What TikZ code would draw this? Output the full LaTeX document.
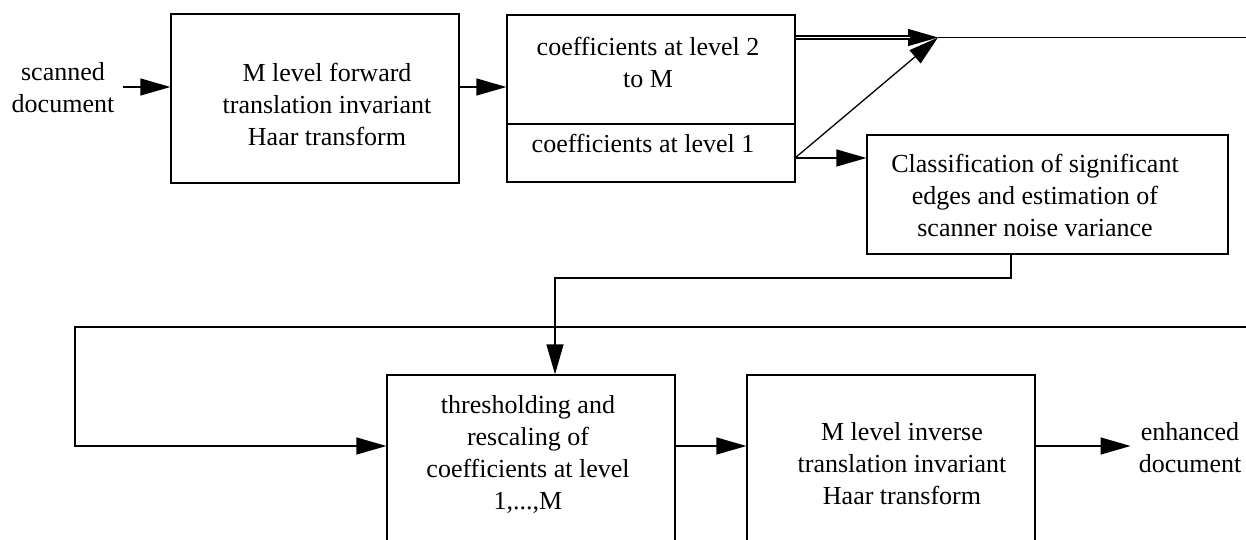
\documentclass[tikz,border=0pt]{standalone}
\usepackage{fontspec}
\setmainfont{Liberation Serif}
\usetikzlibrary{arrows.meta}
\begin{document}
\begin{tikzpicture}[x=1pt,y=-1pt,
  lw/.style={line width=1.3pt},
  box/.style={draw, lw, inner sep=0pt, minimum width=288pt},
  lbl/.style={font=\fontsize{26}{32}\selectfont, align=center, inner sep=0pt},
  arr/.style={lw, -{Triangle[length=30pt,width=17pt]}}]
\useasboundingbox (0,0) rectangle (1246,540);
\clip (0,0) rectangle (1246,540);
% boxes
\node[box, minimum height=169pt] (b1) at (315,98.5) {};
\node[box, minimum height=109pt] (b2a) at (651,69.5) {};
\node[box, minimum height=58pt] (b2b) at (651,153) {};
\node[box, minimum width=361pt, minimum height=119pt] (b3) at (1047.5,194.5) {};
\node[box, minimum height=185pt] (b4) at (531,467.5) {};
\node[box, minimum height=185pt] (b5) at (891,467.5) {};
% texts
\node[lbl, inner xsep=9pt] (in) at (63,87.5) {scanned\\document};
\node[lbl] (t1) at (327,104) {M level forward\\translation invariant\\Haar transform};
\node[lbl] (t2a) at (648,62.5) {coefficients at level 2\\to M};
\node[lbl] (t2b) at (643,143) {coefficients at level 1};
\node[lbl] (t3) at (1035,195) {Classification of significant\\edges and estimation of\\scanner noise variance};
\node[lbl] (t4) at (528,454.5) {thresholding and\\rescaling of\\coefficients at level\\1,...,M};
\node[lbl] (t5) at (902,463.5) {M level inverse\\translation invariant\\Haar transform};
\node[lbl, inner xsep=8pt] (out) at (1190,447.5) {enhanced\\document};
% coordinates
\coordinate (j) at (938,37.5);
\coordinate (r1) at (1246,37.5);
\coordinate (s) at (795,158);
\coordinate (c1) at (1011,278);
\coordinate (d) at (555,278);
\coordinate (f1) at (1246,327);
\coordinate (f2) at (75,327);
\coordinate (f3) at (75,446);
\coordinate (a1) at (0,87);
% connectors
\draw[arr] (in.east |- a1) -- (b1.west |- a1);
\draw[arr] (b1.east |- a1) -- (b2a.west |- a1);
\draw[arr] (b2a.east |- j) -- (j);
\draw[lw, double, double distance=1.6pt, shorten >=28pt] (b2a.east |- j) -- (j);
\draw[lw] (j) -- (r1);
\draw[arr] (s) -- (j);
\draw[arr] (s) -- (b3.west |- s);
\draw[arr] (c1 |- b3.south) -- (c1) -- (d) -- (d |- b4.north);
\draw[arr] (f1) -- (f2) -- (f3) -- (f3 -| b4.west);
\draw[arr] (b4.east |- f3) -- (b5.west |- f3);
\draw[arr] (b5.east |- f3) -- (out.west |- f3);
\end{tikzpicture}
\end{document}
